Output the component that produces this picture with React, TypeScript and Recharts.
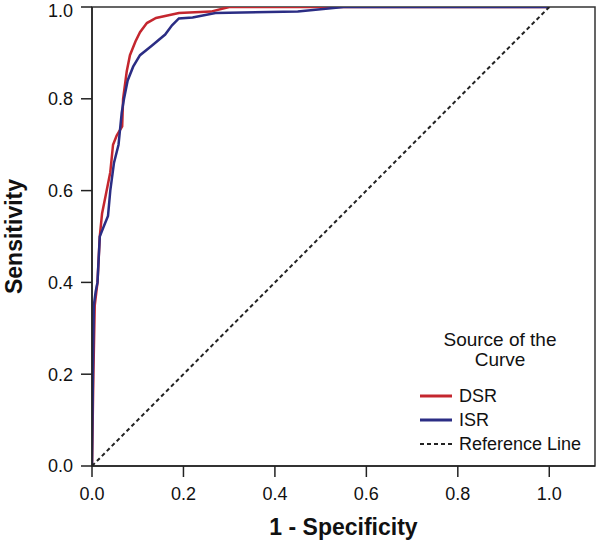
import { LineChart, Line, XAxis, YAxis, ReferenceArea, Legend } from "recharts";

// ROC coordinates (1 - specificity, sensitivity)
const dsrFpr = [0, 0.003, 0.006, 0.012, 0.017, 0.022, 0.03, 0.04, 0.046, 0.054, 0.066, 0.068, 0.076, 0.083, 0.095, 0.105, 0.12, 0.14, 0.19, 0.26, 0.3, 1.0];
const dsrTpr = [0, 0.2, 0.35, 0.4, 0.5, 0.55, 0.59, 0.64, 0.7, 0.72, 0.74, 0.8, 0.86, 0.895, 0.925, 0.945, 0.965, 0.976, 0.987, 0.99, 1.0, 1.0];

const isrFpr = [0, 0.002, 0.004, 0.008, 0.012, 0.017, 0.025, 0.035, 0.04, 0.048, 0.058, 0.065, 0.07, 0.078, 0.09, 0.105, 0.13, 0.16, 0.175, 0.19, 0.22, 0.27, 0.45, 0.55, 1.0];
const isrTpr = [0, 0.2, 0.35, 0.38, 0.4, 0.5, 0.52, 0.545, 0.6, 0.66, 0.7, 0.77, 0.8, 0.84, 0.87, 0.895, 0.915, 0.94, 0.96, 0.975, 0.977, 0.987, 0.99, 1.0, 1.0];

const refFpr = [0, 1];
const refTpr = [0, 1];

const xTicks = [0, 0.2, 0.4, 0.6, 0.8, 1.0];
const yTicks = [0, 0.2, 0.4, 0.6, 0.8, 1.0];

const FONT = "'Liberation Sans', Arial, sans-serif";
const DSR_COLOR = "#c4262e";
const ISR_COLOR = "#2b2d84";

const zip = (xs: number[], ys: number[]) => xs.map((x, i) => ({ x, y: ys[i] }));

const dsrData = zip(dsrFpr, dsrTpr);
const isrData = zip(isrFpr, isrTpr);
const refData = zip(refFpr, refTpr);

function CurveLegend({ payload }: any) {
	return (
		<div style={{ fontFamily: FONT, color: "#111", width: 175, whiteSpace: "nowrap" }}>
			<div style={{ fontSize: 19, lineHeight: "20px", textAlign: "center", width: 160 }}>
				Source of the
				<br />
				Curve
			</div>
			<div style={{ marginTop: 14 }}>
				{(payload ?? []).map((p: any) => (
					<div key={p.value} style={{ display: "flex", alignItems: "center", height: 24 }}>
						<svg width={32} height={6} style={{ marginRight: 7, flex: "none" }}>
							<line
								x1={0}
								y1={3}
								x2={32}
								y2={3}
								stroke={p.color}
								strokeWidth={p.payload?.strokeDasharray ? 2 : 3}
								strokeDasharray={p.payload?.strokeDasharray}
							/>
						</svg>
						<span style={{ fontSize: 18, lineHeight: "24px" }}>{p.value}</span>
					</div>
				))}
			</div>
		</div>
	);
}

export default function App() {
	return (
		<div style={{ position: "absolute", left: 0, top: 0, width: 600, height: 550, background: "#fff" }}>
			<LineChart width={600} height={550} margin={{ top: 7, right: 5, bottom: 0, left: 0 }}>
				<XAxis
					type="number"
					dataKey="x"
					domain={[0, 1.1]}
					ticks={xTicks}
					tickFormatter={(v: number) => v.toFixed(1)}
					allowDataOverflow
					height={84}
					tickSize={11}
					tickMargin={10}
					stroke="#222"
					strokeWidth={1.5}
					tick={{ fill: "#111", fontSize: 18, fontFamily: FONT }}
					label={{
						value: "1 - Specificity",
						position: "insideBottom",
						offset: 15,
						style: { fill: "#111", fontSize: 23, fontWeight: "bold", fontFamily: FONT },
					}}
				/>
				<YAxis
					type="number"
					domain={[0, 1]}
					ticks={yTicks}
					tickFormatter={(v: number) => v.toFixed(1)}
					allowDataOverflow
					width={92}
					tickSize={11}
					tickMargin={8}
					stroke="#222"
					strokeWidth={1.5}
					tick={{ fill: "#111", fontSize: 18, fontFamily: FONT }}
					label={{
						value: "Sensitivity",
						angle: -90,
						position: "insideLeft",
						offset: 14,
						style: { fill: "#111", fontSize: 23, fontWeight: "bold", fontFamily: FONT, textAnchor: "middle" },
					}}
				/>
				<ReferenceArea x1={0} x2={1.1} y1={0} y2={1} fill="none" stroke="#333" strokeWidth={1.5} ifOverflow="visible" />
				<Line
					data={dsrData}
					dataKey="y"
					name="DSR"
					type="linear"
					stroke={DSR_COLOR}
					strokeWidth={2.5}
					dot={false}
					isAnimationActive={false}
				/>
				<Line
					data={isrData}
					dataKey="y"
					name="ISR"
					type="linear"
					stroke={ISR_COLOR}
					strokeWidth={2.5}
					dot={false}
					isAnimationActive={false}
				/>
				<Line
					data={refData}
					dataKey="y"
					name="Reference Line"
					type="linear"
					stroke="#222"
					strokeWidth={2}
					strokeDasharray="4 3"
					dot={false}
					isAnimationActive={false}
				/>
				<Legend
					layout="vertical"
					align="center"
					verticalAlign="middle"
					content={CurveLegend}
					wrapperStyle={{ position: "absolute", left: 420, top: 330, width: 175, height: 130 }}
				/>
			</LineChart>
		</div>
	);
}
